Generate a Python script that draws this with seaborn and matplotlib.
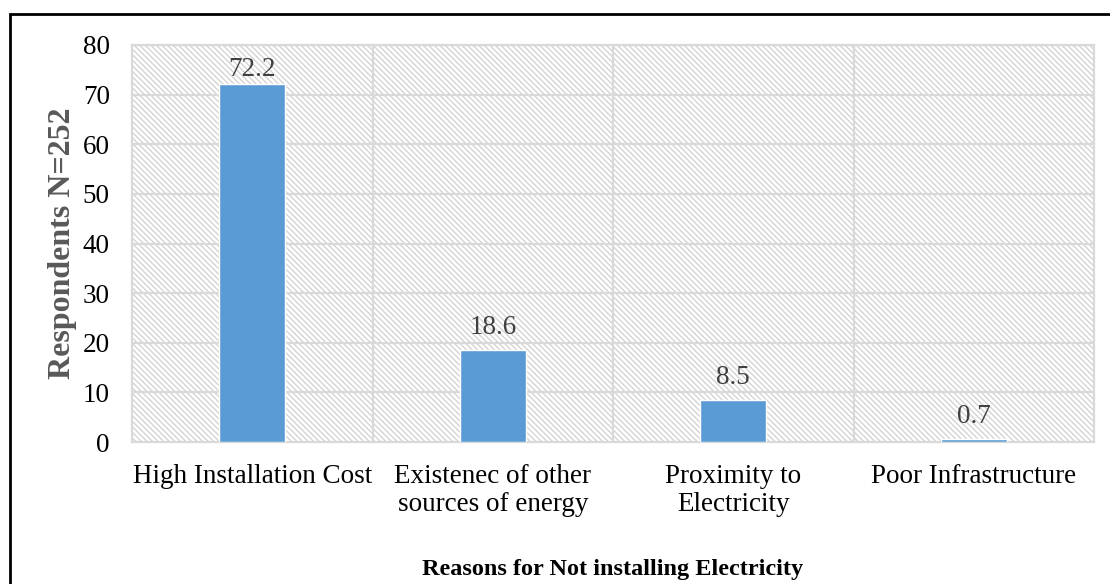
import matplotlib
matplotlib.use("Agg")
import matplotlib.pyplot as plt
from matplotlib.patches import Rectangle
import seaborn as sns
import pandas as pd

reasons = [
    "High Installation Cost",
    "Existenec of other\nsources of energy",
    "Proximity to\nElectricity",
    "Poor Infrastructure",
]
respondents = [72.2, 18.6, 8.5, 0.7]
y_ticks = [0, 10, 20, 30, 40, 50, 60, 70, 80]

sns.set_theme(style="white")
plt.rcParams["font.family"] = ["Liberation Serif", "DejaVu Serif"]
plt.rcParams["hatch.linewidth"] = 0.9

df = pd.DataFrame({"reason": reasons, "value": respondents})

fig = plt.figure(figsize=(11.10, 5.84), dpi=100)
ax = fig.add_axes([0.119, 0.243, 0.8666, 0.680])

grid_c = "#d9d9d9"

# hatched plot-area background
bg = Rectangle((0, 0), 1, 1, transform=ax.transAxes, facecolor="white",
               edgecolor="#d0d0d0", hatch="\\" * 6, linewidth=0, zorder=0)
ax.add_patch(bg)

sns.barplot(data=df, x="reason", y="value", color="#5b9bd5", width=0.275,
            saturation=1, ax=ax, zorder=3)

y_max = y_ticks[-1]
ax.set_xlim(-0.5, len(reasons) - 0.5)
ax.set_ylim(0, y_max)
ax.set_yticks(y_ticks)

for y in y_ticks[1:]:
    ax.axhline(y, color=grid_c, lw=1.6, zorder=1)
for x in [0.5, 1.5, 2.5]:
    ax.axvline(x, color=grid_c, lw=1.6, zorder=1)
for s in ax.spines.values():
    s.set_color(grid_c)
    s.set_linewidth(1.6)

# value labels; a label that would run past the top is kept inside the plot
for i, v in enumerate(respondents):
    if v > y_max - 10:
        ax.annotate(f"{v}", (i, y_max), xytext=(0, -8.5), textcoords="offset points",
                    ha="center", va="top", fontsize=19.5, color="#404040", zorder=4)
    else:
        ax.annotate(f"{v}", (i, v), xytext=(0, 7), textcoords="offset points",
                    ha="center", va="bottom", fontsize=19.5, color="#404040", zorder=4)

ax.tick_params(axis="both", length=0, labelsize=19.5, colors="black")
ax.tick_params(axis="x", pad=15.5)
ax.tick_params(axis="y", pad=16)
for lbl in ax.get_xticklabels():
    lbl.set_linespacing(1.2)
ax.set_xlabel("")
ax.set_ylabel("Respondents N=252", fontsize=23, fontweight="bold",
              color="#595959", labelpad=4)

fig.text(0.552, 0.024, "Reasons for Not installing Electricity",
         ha="center", va="center", fontsize=17.5, fontweight="bold", color="black")

# outer frame around the figure
frame = Rectangle((10 / 1110, -0.05), 1.2, 1 - 14 / 584 + 0.05,
                  transform=fig.transFigure, fill=False, edgecolor="black",
                  linewidth=2, clip_on=False)
fig.patches.append(frame)

fig.savefig("out.png", dpi=100)
